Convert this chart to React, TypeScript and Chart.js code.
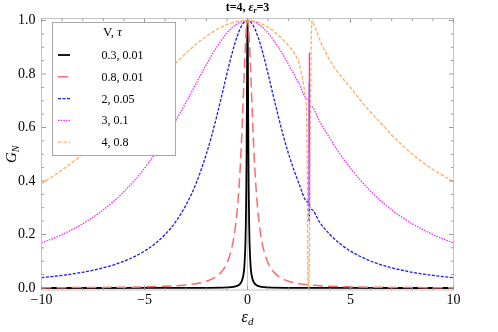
import React, { useEffect, useRef } from 'react';
import { Chart, registerables } from 'chart.js';

Chart.register(...registerables);

const SERIF = '"Liberation Serif", "Times New Roman", serif';

// ---- axis ticks & labels ----
const xTicks = [-10, -5, 0, 5, 10];
const xTickLabels = ['\u221210', '\u22125', '0', '5', '10'];
const yTicks = [0, 0.2, 0.4, 0.6, 0.8, 1.0];
const yTickLabels = ['0.0', '0.2', '0.4', '0.6', '0.8', '1.0'];

const titleParts = ['t=4, ', '\u03b5', 'r', '=3'];
const xLabelParts = ['\u03b5', 'd'];
const yLabelParts = ['G', 'N'];
const legendTitleParts = ['V, ', '\u03c4'];
const seriesLabels = ['0.3, 0.01', '0.8, 0.01', '2, 0.05', '3, 0.1', '4, 0.8'];

// ---- series data (epsilon_d, G_N) ----
const blackX = [-10, -5, -2, -1, -0.5, -0.3, -0.2, -0.15, -0.1, -0.08, -0.06, -0.045, -0.03, -0.02, -0.01, 0, 0.01, 0.02, 0.03, 0.045, 0.06, 0.08, 0.1, 0.15, 0.2, 0.3, 0.5, 1, 2, 5, 10];
const blackY = [0.00002, 0.00008, 0.0005, 0.002, 0.008, 0.022, 0.048, 0.083, 0.168, 0.24, 0.36, 0.5, 0.69, 0.835, 0.953, 1, 0.953, 0.835, 0.69, 0.5, 0.36, 0.24, 0.168, 0.083, 0.048, 0.022, 0.008, 0.002, 0.0005, 0.00008, 0.00002];

const redX = [-10, -8, -6, -5, -4, -3, -2.5, -2, -1.5, -1.25, -1, -0.8, -0.7, -0.6, -0.5, -0.4, -0.3, -0.25, -0.2, -0.15, -0.1, -0.05, 0, 0.05, 0.1, 0.15, 0.2, 0.25, 0.3, 0.4, 0.5, 0.6, 0.7, 0.8, 1, 1.25, 1.5, 2, 2.5, 3, 4, 5, 6, 8, 10];
const redY = [0.001, 0.0016, 0.0028, 0.0041, 0.0064, 0.0113, 0.0161, 0.025, 0.0435, 0.0615, 0.0929, 0.138, 0.173, 0.221, 0.291, 0.39, 0.532, 0.621, 0.719, 0.82, 0.911, 0.976, 1, 0.976, 0.911, 0.82, 0.719, 0.621, 0.532, 0.39, 0.291, 0.221, 0.173, 0.138, 0.0929, 0.0615, 0.0435, 0.025, 0.0161, 0.0113, 0.0064, 0.0041, 0.0028, 0.0016, 0.001];

const blueX = [-10, -9, -8, -7, -6, -5, -4.5, -4, -3.5, -3, -2.5, -2, -1.75, -1.5, -1.25, -1, -0.75, -0.5, -0.25, 0, 0.25, 0.5, 0.75, 1, 1.25, 1.5, 1.75, 2, 2.5, 2.9, 2.99, 2.999, 3.001, 3.01, 3.1, 3.5, 4, 4.5, 5, 6, 7, 8, 9, 10];
const blueY = [0.0385, 0.0471, 0.0588, 0.0755, 0.1, 0.138, 0.165, 0.2, 0.246, 0.308, 0.39, 0.5, 0.566, 0.64, 0.719, 0.8, 0.877, 0.941, 0.985, 1, 0.985, 0.941, 0.877, 0.8, 0.719, 0.64, 0.566, 0.5, 0.39, 0.322, 0.31, 0.25, 0.77, 0.306, 0.294, 0.246, 0.2, 0.165, 0.138, 0.1, 0.0755, 0.0588, 0.0471, 0.0385];

const magentaX = [-10, -9, -8, -7, -6, -5, -4, -3, -2, -1.5, -1, -0.5, 0, 0.5, 1, 1.5, 2, 2.5, 2.9, 2.99, 2.995, 3.005, 3.01, 3.1, 3.5, 4, 4.5, 5, 6, 7, 8, 9, 10];
const magentaY = [0.168, 0.2, 0.24, 0.292, 0.36, 0.4475, 0.559, 0.692, 0.835, 0.9, 0.953, 0.988, 1, 0.988, 0.953, 0.9, 0.835, 0.764, 0.707, 0.694, 0.32, 0.88, 0.691, 0.678, 0.623, 0.559, 0.5, 0.4475, 0.36, 0.292, 0.24, 0.2, 0.168];

const orangeX = [-10, -9, -8, -7, -6, -5, -4, -3, -2, -1, 0, 0.5, 1, 1.5, 2, 2.25, 2.5, 2.7, 2.8, 2.86, 2.9, 2.93, 2.95, 2.99, 3.04, 3.09, 3.14, 3.25, 3.5, 3.7, 4, 4.5, 5, 5.5, 6, 6.5, 7, 7.5, 8, 8.5, 9, 9.5, 10];
const orangeY = [0.39, 0.441, 0.5, 0.566, 0.64, 0.719, 0.8, 0.877, 0.941, 0.985, 1, 0.994, 0.975, 0.945, 0.905, 0.88, 0.84, 0.77, 0.72, 0.66, 0.45, 0.05, 0, 0.05, 0.5, 0.9, 1, 0.98, 0.93, 0.895, 0.85, 0.795, 0.75, 0.7, 0.655, 0.614, 0.572, 0.535, 0.5, 0.47, 0.443, 0.42, 0.397];

const seriesX = [blackX, redX, blueX, magentaX, orangeX];
const seriesY = [blackY, redY, blueY, magentaY, orangeY];
const seriesColors = ['#000000', '#ff6a6a', '#1a1aff', '#ff22ff', '#ffad5c'];
const seriesDash = [[], [10, 5], [3, 1.5], [1.5, 1.2], [3.5, 1.8]];
const seriesWidth = [1.8, 1.5, 1.3, 1.3, 1.3];

type Part = { t: string; font: string; dy?: number };

function drawParts(ctx: CanvasRenderingContext2D, parts: Part[], x: number, y: number, align: 'left' | 'center') {
  let total = 0;
  for (const p of parts) {
    ctx.font = p.font;
    total += ctx.measureText(p.t).width;
  }
  let cx = align === 'center' ? x - total / 2 : x;
  ctx.textAlign = 'left';
  ctx.textBaseline = 'alphabetic';
  for (const p of parts) {
    ctx.font = p.font;
    ctx.fillText(p.t, cx, y + (p.dy || 0));
    cx += ctx.measureText(p.t).width;
  }
}

const decorPlugin = {
  id: 'decor',
  beforeDatasetsDraw(chart: any) {
    const { ctx, chartArea: a, scales } = chart;
    const x0 = scales.x.getPixelForValue(0);
    ctx.save();
    ctx.strokeStyle = '#c8c8c8';
    ctx.lineWidth = 1;
    ctx.beginPath();
    ctx.moveTo(x0, a.top);
    ctx.lineTo(x0, a.bottom);
    ctx.stroke();
    ctx.restore();
  },
  afterDatasetsDraw(chart: any) {
    const { ctx, chartArea: a, scales } = chart;
    const xs = scales.x;
    const ys = scales.y;
    ctx.save();
    // frame
    ctx.strokeStyle = '#c4c4c4';
    ctx.lineWidth = 1;
    ctx.strokeRect(a.left, a.top, a.right - a.left, a.bottom - a.top);
    // ticks (inward)
    ctx.strokeStyle = '#9a9a9a';
    ctx.beginPath();
    for (let v = -10; v <= 10; v += 1) {
      const px = xs.getPixelForValue(v);
      const len = v % 5 === 0 ? 4.5 : 2.5;
      ctx.moveTo(px, a.bottom);
      ctx.lineTo(px, a.bottom - len);
      ctx.moveTo(px, a.top);
      ctx.lineTo(px, a.top + len);
    }
    for (let i = 0; i <= 20; i++) {
      const v = i * 0.05;
      const py = ys.getPixelForValue(v);
      const len = i % 4 === 0 ? 4.5 : 2.5;
      ctx.moveTo(a.left, py);
      ctx.lineTo(a.left + len, py);
      ctx.moveTo(a.right, py);
      ctx.lineTo(a.right - len, py);
    }
    ctx.stroke();

    ctx.fillStyle = '#000';
    // title
    drawParts(ctx, [
      { t: titleParts[0], font: `bold 12px ${SERIF}` },
      { t: titleParts[1], font: `italic bold 12px ${SERIF}` },
      { t: titleParts[2], font: `italic bold 8px ${SERIF}`, dy: 2.5 },
      { t: titleParts[3], font: `bold 12px ${SERIF}` },
    ], (a.left + a.right) / 2, 10.5, 'center');
    // x label
    drawParts(ctx, [
      { t: xLabelParts[0], font: `italic 16px ${SERIF}` },
      { t: xLabelParts[1], font: `italic 11px ${SERIF}`, dy: 3 },
    ], (a.left + a.right) / 2, 322, 'center');
    // y label
    ctx.save();
    ctx.translate(16, (a.top + a.bottom) / 2);
    ctx.rotate(-Math.PI / 2);
    drawParts(ctx, [
      { t: yLabelParts[0], font: `italic 15px ${SERIF}` },
      { t: yLabelParts[1], font: `italic 10px ${SERIF}`, dy: 3 },
    ], 0, 0, 'center');
    ctx.restore();

    // legend
    const bx = a.left + 11;
    const by = a.top + 4;
    const bw = 123;
    const bh = 133;
    ctx.fillStyle = '#ffffff';
    ctx.fillRect(bx, by, bw, bh);
    ctx.strokeStyle = '#a8a8a8';
    ctx.lineWidth = 1;
    ctx.strokeRect(bx, by, bw, bh);
    ctx.fillStyle = '#000';
    drawParts(ctx, [
      { t: legendTitleParts[0], font: `13px ${SERIF}` },
      { t: legendTitleParts[1], font: `italic 13px ${SERIF}` },
    ], bx + 60, by + 13.5, 'center');
    const dsets = chart.data.datasets;
    for (let i = 0; i < dsets.length; i++) {
      const ds = dsets[i];
      const cy = by + 32.5 + i * 21.8;
      ctx.save();
      ctx.strokeStyle = ds.borderColor;
      ctx.lineWidth = ds.borderWidth;
      ctx.setLineDash(ds.borderDash || []);
      ctx.beginPath();
      ctx.moveTo(bx + 5.5, cy);
      ctx.lineTo(bx + 17.5, cy);
      ctx.stroke();
      ctx.restore();
      ctx.fillStyle = '#000';
      ctx.font = `12px ${SERIF}`;
      ctx.textAlign = 'left';
      ctx.textBaseline = 'alphabetic';
      ctx.fillText(ds.label, bx + 49, cy + 4);
    }
    ctx.restore();
  },
};

export default function App() {
  const ref = useRef<HTMLCanvasElement | null>(null);
  useEffect(() => {
    if (!ref.current) return;
    const datasets = seriesLabels.map((label, i) => ({
      label,
      data: seriesX[i].map((x, j) => ({ x, y: seriesY[i][j] })),
      borderColor: seriesColors[i],
      backgroundColor: seriesColors[i],
      borderWidth: seriesWidth[i],
      borderDash: seriesDash[i],
      pointRadius: 0,
      fill: false,
      cubicInterpolationMode: 'monotone' as const,
      order: seriesLabels.length - 1 - i,
    }));
    const chart = new Chart(ref.current, {
      type: 'line',
      data: { datasets },
      options: {
        animation: false,
        responsive: false,
        layout: { padding: { left: 0, right: 44.5, top: 18.5, bottom: 0 } },
        plugins: { legend: { display: false }, title: { display: false }, tooltip: { enabled: false } },
        scales: {
          x: {
            type: 'linear',
            min: -10,
            max: 10,
            grid: { display: false, drawTicks: false },
            border: { display: false },
            afterBuildTicks: (s: any) => { s.ticks = xTicks.map((v) => ({ value: v })); },
            afterFit: (s: any) => { s.height = 42; },
            ticks: {
              autoSkip: false,
              maxRotation: 0,
              padding: 2,
              color: '#000',
              font: { family: SERIF, size: 14 },
              callback: (_v: any, i: number) => xTickLabels[i],
            },
          },
          y: {
            type: 'linear',
            min: -0.0075,
            max: 1.0075,
            grid: { display: false, drawTicks: false },
            border: { display: false },
            afterBuildTicks: (s: any) => { s.ticks = yTicks.map((v) => ({ value: v })); },
            afterFit: (s: any) => { s.width = 41.5; },
            ticks: {
              autoSkip: false,
              padding: 6,
              color: '#000',
              font: { family: SERIF, size: 14 },
              callback: (_v: any, i: number) => yTickLabels[i],
            },
          },
        },
      },
      plugins: [decorPlugin],
    });
    return () => chart.destroy();
  }, []);
  return (
    <div style={{ position: 'absolute', left: 0, top: 0, width: 498, height: 332, background: '#fff' }}>
      <canvas ref={ref} width={498} height={332} style={{ display: 'block' }} />
    </div>
  );
}
